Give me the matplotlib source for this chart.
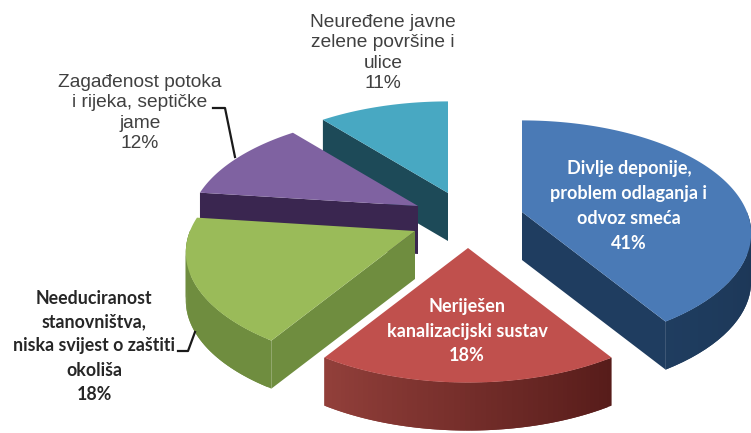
import numpy as np
import matplotlib
matplotlib.use("Agg")
import matplotlib.pyplot as plt
from matplotlib.colors import to_rgb

# slices clockwise from 12 o'clock
labels = ["Divlje deponije,\nproblem odlaganja i\nodvoz smeća\n41%",
          "Neriješen\nkanalizacijski sustav\n18%",
          "Needuciranost\nstanovništva,\nniska svijest o zaštiti\nokoliša\n18%",
          "Zagađenost potoka\ni rijeka, septičke\njame\n12%",
          "Neuređene javne\nzelene površine i\nulice\n11%"]
values = [41, 18, 18, 12, 11]

top_colors = ["#4a7ab6", "#c0504d", "#9abb59", "#7f62a1", "#48a8c2"]
wall_left = ["#1f3d60", "#93403b", "#6f8d3f", "#3a2650", "#1d4a58"]
wall_right = ["#1c3554", "#571c1a", "#6f8d3f", "#3a2650", "#1d4a58"]

# explode of each slice in pixels, and pie centre
explode_x = [62, 8, -45, -42, -12]
explode_y = [-8, 28, 11, -14, -27]
cx, cy = 460, 220
rx, ry, persp = 225, 109, 0.19
depth = 48

label_x = [629, 467, 94, 140, 383]
label_y = [206, 331, 346, 113, 53]
label_color = ["white", "white", "#262626", "#404040", "#404040"]
label_weight = ["bold", "bold", "bold", "normal", "normal"]
label_size = [13, 13, 12.8, 13.8, 13.8]
label_font = ["Lato", "Lato", "Lato", "Liberation Sans", "Liberation Sans"]
label_space = [1.55, 1.55, 1.5, 1.28, 1.28]


def project(theta, r, ox, oy):
    # ground plane with simple perspective, theta clockwise from north
    x = r * np.sin(theta)
    y = r * np.cos(theta)
    s = 1 / (1 + persp * y)
    return ox + rx * x * s, oy - ry * y * s


def mix(c1, c2, t):
    return tuple(a + (b - a) * t for a, b in zip(to_rgb(c1), to_rgb(c2)))


fig = plt.figure(figsize=(7.51, 4.33), dpi=100)
ax = fig.add_axes([0, 0, 1, 1])
ax.set_xlim(0, 751)
ax.set_ylim(433, 0)
ax.axis("off")

edges = np.cumsum([0] + values) / sum(values) * 2 * np.pi

# back slices first, front ones on top
for i in [4, 3, 2, 0, 1]:
    t1, t2 = edges[i], edges[i + 1]
    ox, oy = cx + explode_x[i], cy + explode_y[i]
    px, py = ox, oy

    # straight cut walls, only those that face the viewer
    for t, sign in [(t1, -1), (t2, 1)]:
        ex, ey = project(t, 1, ox, oy)
        if (ex - px) * sign > 1:
            ax.fill([px, ex, ex, px], [py, ey, ey + depth, py + depth],
                    color=wall_left[i], lw=0)

    # rim wall, drawn in overlapping strips for the shading
    th = np.linspace(t1, t2, 60)
    th = th[np.cos(th) < 0.02]
    for k in range(len(th) - 1):
        seg = th[k:k + 3]
        xs, ys = project(seg, 1, ox, oy)
        col = mix(wall_right[i], wall_left[i], (th[k] - th[0]) / (th[-1] - th[0]))
        ax.fill(np.r_[xs, xs[::-1]], np.r_[ys, ys[::-1] + depth], color=col, lw=0)

    # top face
    th = np.linspace(t1, t2, 120)
    xs, ys = project(th, 1, ox, oy)
    ax.fill(np.r_[px, xs], np.r_[py, ys], color=top_colors[i], lw=0)

# leader lines
ax.plot([213, 225, 235], [108, 108, 157], color="#1a1a1a", lw=1.6)
ax.plot([178, 188, 195], [351, 351, 332], color="#1a1a1a", lw=1.6)

for i in range(len(labels)):
    ax.text(label_x[i], label_y[i], labels[i], color=label_color[i], ha="center", va="center",
            fontsize=label_size[i], fontweight=label_weight[i], family=label_font[i],
            linespacing=label_space[i], multialignment="center")

fig.savefig("out.png", dpi=100, facecolor="white")
